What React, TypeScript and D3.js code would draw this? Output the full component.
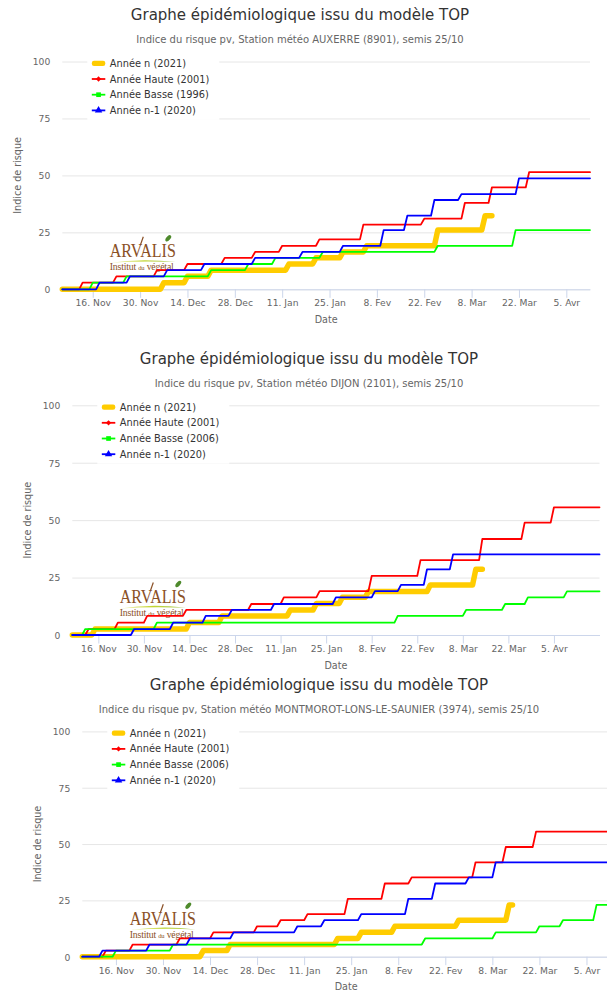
import React, { useEffect, useRef } from "react";
import * as d3 from "d3";

type Step = [string, number];

// Each series: dates where the index steps up, with the new value (last entry = end of series)

// Station AUXERRE (8901)
const auxerreDomain = ["2020-11-07", "2021-04-12"];
const auxerreN: Step[] = [
  ["2020-11-07", 0], ["2020-12-06", 2.9], ["2020-12-13", 5.7], ["2020-12-20", 8.4],
  ["2021-01-12", 11.1], ["2021-01-20", 13.8], ["2021-01-28", 16.4], ["2021-02-04", 19.1],
  ["2021-02-25", 26], ["2021-03-11", 32.3], ["2021-03-14", 32.3]
];
const auxerreHaute: Step[] = [
  ["2020-11-07", 0], ["2020-11-12", 2.9], ["2020-11-22", 5.7], ["2020-12-04", 8.4],
  ["2020-12-13", 11.1], ["2020-12-24", 13.8], ["2021-01-02", 16.4], ["2021-01-10", 19.1],
  ["2021-01-21", 21.9], ["2021-02-03", 28.4], ["2021-02-21", 31], ["2021-03-05", 37.9],
  ["2021-03-13", 44.7], ["2021-03-24", 51.4], ["2021-04-12", 51.4]
];
const auxerreBasse: Step[] = [
  ["2020-11-07", 0], ["2020-11-15", 2.9], ["2020-11-25", 5.7], ["2020-12-20", 8.4],
  ["2020-12-31", 11.1], ["2021-01-08", 13.8], ["2021-01-22", 16.4], ["2021-02-25", 19.1],
  ["2021-03-20", 26], ["2021-04-12", 26]
];
const auxerreN1: Step[] = [
  ["2020-11-07", 0], ["2020-11-17", 2.9], ["2020-11-26", 5.7], ["2020-12-07", 8.4],
  ["2020-12-18", 11.1], ["2021-01-02", 13.8], ["2021-01-16", 16.4], ["2021-01-28", 19.1],
  ["2021-02-09", 26], ["2021-02-16", 32.3], ["2021-02-24", 39.2], ["2021-03-04", 41.8],
  ["2021-03-21", 48.7], ["2021-04-12", 48.7]
];

// Station DIJON (2101)
const dijonDomain = ["2020-11-08", "2021-04-19"];
const dijonN: Step[] = [
  ["2020-11-08", 0], ["2020-11-14", 2.6], ["2020-12-13", 5.4], ["2020-12-23", 8.3],
  ["2021-01-13", 10.9], ["2021-01-21", 13.7], ["2021-01-29", 16.4], ["2021-02-06", 18.9],
  ["2021-02-25", 21.8], ["2021-03-11", 28.6], ["2021-03-14", 28.6]
];
const dijonHaute: Step[] = [
  ["2020-11-08", 0], ["2020-11-12", 2.6], ["2020-11-21", 5.4], ["2020-11-30", 8.3],
  ["2020-12-12", 10.9], ["2021-01-01", 13.5], ["2021-01-11", 16.4], ["2021-01-22", 19.1],
  ["2021-02-07", 25.7], ["2021-02-22", 32.6], ["2021-03-13", 41.8], ["2021-03-26", 48.9],
  ["2021-04-04", 55.6], ["2021-04-19", 55.6]
];
const dijonBasse: Step[] = [
  ["2020-11-08", 0], ["2020-11-11", 2.6], ["2020-12-03", 5.4], ["2021-02-15", 8.3],
  ["2021-03-08", 10.9], ["2021-03-20", 13.5], ["2021-03-27", 16.4], ["2021-04-08", 19],
  ["2021-04-19", 19]
];
const dijonN1: Step[] = [
  ["2020-11-08", 0], ["2020-11-26", 2.6], ["2020-12-08", 5.4], ["2020-12-18", 8.3],
  ["2020-12-26", 10.9], ["2021-01-08", 13.5], ["2021-01-27", 16.4], ["2021-02-08", 19.1],
  ["2021-02-16", 21.8], ["2021-02-24", 28.6], ["2021-03-04", 35.1], ["2021-04-19", 35.1]
];

// Station MONTMOROT-LONS-LE-SAUNIER (3974)
const montmorotDomain = ["2020-11-06", "2021-04-12"];
const montmorotN: Step[] = [
  ["2020-11-06", 0], ["2020-12-11", 2.7], ["2020-12-19", 5.4], ["2021-01-20", 8.1],
  ["2021-01-27", 10.8], ["2021-02-06", 13.5], ["2021-02-25", 16.2], ["2021-03-12", 23],
  ["2021-03-14", 23]
];
const montmorotHaute: Step[] = [
  ["2020-11-06", 0], ["2020-11-12", 2.7], ["2020-11-20", 5.4], ["2020-12-04", 8.1],
  ["2020-12-14", 10.8], ["2020-12-27", 13.5], ["2021-01-03", 16.2], ["2021-01-11", 18.9],
  ["2021-01-23", 25.7], ["2021-02-03", 32.5], ["2021-02-11", 35.2], ["2021-03-02", 41.9],
  ["2021-03-11", 48.7], ["2021-03-20", 55.5], ["2021-04-12", 55.5]
];
const montmorotBasse: Step[] = [
  ["2020-11-06", 0], ["2020-11-15", 2.7], ["2020-12-02", 5.4], ["2021-02-15", 8.1],
  ["2021-03-08", 10.8], ["2021-03-21", 13.5], ["2021-03-28", 16.2], ["2021-04-07", 23],
  ["2021-04-12", 23]
];
const montmorotN1: Step[] = [
  ["2020-11-06", 0], ["2020-11-11", 2.7], ["2020-11-25", 5.4], ["2020-12-07", 8.1],
  ["2020-12-20", 10.8], ["2021-01-08", 13.5], ["2021-01-16", 16.2], ["2021-01-27", 18.9],
  ["2021-02-10", 25.7], ["2021-02-18", 32.5], ["2021-02-28", 35.2], ["2021-03-08", 41.9],
  ["2021-04-12", 41.9]
];

const xTickDates = [
  "2020-11-16", "2020-11-30", "2020-12-14", "2020-12-28", "2021-01-11", "2021-01-25",
  "2021-02-08", "2021-02-22", "2021-03-08", "2021-03-22", "2021-04-05"
];
const monthLabels = ["Jan", "Fev", "Mar", "Avr", "Mai", "Juin", "Juil", "Aou", "Sep", "Oct", "Nov", "Dec"];
const yTicks = [0, 25, 50, 75, 100];

const chartTitle = "Graphe épidémiologique issu du modèle TOP";
const auxerreLegend = ["Année n (2021)", "Année Haute (2001)", "Année Basse (1996)", "Année n-1 (2020)"];
const dijonLegend = ["Année n (2021)", "Année Haute (2001)", "Année Basse (2006)", "Année n-1 (2020)"];
const montmorotLegend = ["Année n (2021)", "Année Haute (2001)", "Année Basse (2006)", "Année n-1 (2020)"];

const seriesColors = ["#ffcc00", "#ff0000", "#00ff00", "#0000ff"];
const seriesWidths = [5.5, 1.8, 1.8, 1.8];

const charts = [
  {
    subtitle: "Indice du risque pv, Station météo AUXERRE (8901), semis 25/10",
    legend: auxerreLegend,
    series: [auxerreN, auxerreHaute, auxerreBasse, auxerreN1],
    domain: auxerreDomain,
    layout: { left: 62.3, right: 590, y0: 289.3, y100: 61.5, titleX: 300 }
  },
  {
    subtitle: "Indice du risque pv, Station météo DIJON (2101), semis 25/10",
    legend: dijonLegend,
    series: [dijonN, dijonHaute, dijonBasse, dijonN1],
    domain: dijonDomain,
    layout: { left: 72.3, right: 599.5, y0: 635, y100: 405.3, titleX: 309 }
  },
  {
    subtitle: "Indice du risque pv, Station météo MONTMOROT-LONS-LE-SAUNIER (3974), semis 25/10",
    legend: montmorotLegend,
    series: [montmorotN, montmorotHaute, montmorotBasse, montmorotN1],
    domain: montmorotDomain,
    layout: { left: 82.3, right: 610, y0: 956.7, y100: 731.4, titleX: 319 }
  }
];

const parse = d3.timeParse("%Y-%m-%d");
const SANS = "'DejaVu Sans', Verdana, sans-serif";
const SERIF = "'Liberation Serif', 'DejaVu Serif', serif";
const BROWN = "#8a5026";

// step changes take one day to climb, like the daily source data
function stepPoints(steps: Step[]): [Date, number][] {
  const pts: [Date, number][] = [];
  steps.forEach(([ds, v], i) => {
    const d = parse(ds)!;
    const prev = i > 0 ? steps[i - 1][1] : v;
    if (prev !== v) {
      pts.push([d, prev]);
      pts.push([d3.timeDay.offset(d, 1), v]);
    } else {
      pts.push([d, v]);
    }
  });
  return pts;
}

function drawLogo(g: d3.Selection<SVGGElement, unknown, null, undefined>, x0: number, yb: number) {
  const logo = g.append("g").attr("transform", `translate(${x0},${yb})`);
  logo.append("path")
    .attr("d", "M0,5.4 Q33,0.6 66,4.8 Q33,3.2 0,5.4 Z")
    .attr("fill", "url(#arvalis-swoosh)");
  logo.append("text")
    .attr("font-family", SERIF)
    .attr("font-size", 19)
    .attr("fill", BROWN)
    .attr("textLength", 66)
    .attr("lengthAdjust", "spacingAndGlyphs")
    .text("ARVALIS");
  logo.append("path")
    .attr("d", "M30.5,-12 L33.5,-20.5")
    .attr("stroke", BROWN)
    .attr("stroke-width", 1.2);
  logo.append("ellipse")
    .attr("cx", 58.5).attr("cy", -19)
    .attr("rx", 3.8).attr("ry", 2)
    .attr("transform", "rotate(-50 58.5 -19)")
    .attr("fill", "#4e8a2c");
  const t = logo.append("text")
    .attr("y", 13)
    .attr("font-family", SERIF)
    .attr("font-size", 9.8)
    .attr("fill", BROWN)
    .attr("textLength", 64)
    .attr("lengthAdjust", "spacing");
  t.append("tspan").text("Institut ");
  t.append("tspan").attr("font-size", 6.5).text("du");
  t.append("tspan").text(" végétal");
}

export default function App() {
  const svgRef = useRef<SVGSVGElement>(null);

  useEffect(() => {
    if (!svgRef.current) return;
    const svg = d3.select(svgRef.current);
    svg.selectAll("*").remove();

    const defs = svg.append("defs");
    const grad = defs.append("linearGradient").attr("id", "arvalis-swoosh");
    grad.append("stop").attr("offset", "0%").attr("stop-color", "#e3e77a").attr("stop-opacity", 0.6);
    grad.append("stop").attr("offset", "50%").attr("stop-color", "#c2d530");
    grad.append("stop").attr("offset", "100%").attr("stop-color", "#96bf34").attr("stop-opacity", 0.7);

    charts.forEach((c) => {
      const L = c.layout;
      const x = d3.scaleTime()
        .domain(c.domain.map((d) => parse(d)!) as [Date, Date])
        .range([L.left, L.right]);
      const y = d3.scaleLinear().domain([0, 100]).range([L.y0, L.y100]);
      const g = svg.append("g");

      // Titles
      g.append("text")
        .attr("x", L.titleX).attr("y", L.y100 - 41.5)
        .attr("text-anchor", "middle")
        .attr("font-family", SANS).attr("font-size", 15).attr("fill", "#333333")
        .text(chartTitle);
      g.append("text")
        .attr("x", L.titleX).attr("y", L.y100 - 18.5)
        .attr("text-anchor", "middle")
        .attr("font-family", SANS).attr("font-size", 10).attr("fill", "#666666")
        .text(c.subtitle);

      // Y axis with grid lines
      const yAxis = g.append("g")
        .attr("transform", `translate(${L.left},0)`)
        .call(d3.axisLeft(y).tickValues(yTicks).tickSize(-(L.right - L.left)).tickPadding(12));
      yAxis.select(".domain").remove();
      yAxis.selectAll("line").attr("stroke", "#e6e6e6");
      yAxis.selectAll("text")
        .attr("font-family", SANS).attr("font-size", 9.2).attr("fill", "#666666").attr("dy", "0.36em");

      // X axis
      const xAxis = g.append("g")
        .attr("transform", `translate(0,${L.y0})`)
        .call(d3.axisBottom(x)
          .tickValues(xTickDates.map((d) => parse(d)!))
          .tickFormat((d) => `${(d as Date).getDate()}. ${monthLabels[(d as Date).getMonth()]}`)
          .tickSize(8.5).tickSizeOuter(0).tickPadding(2));
      xAxis.select(".domain").attr("stroke", "#ccd6eb");
      xAxis.selectAll("line").attr("stroke", "#ccd6eb");
      xAxis.selectAll("text")
        .attr("font-family", SANS).attr("font-size", 9.2).attr("fill", "#666666");

      // Axis titles
      g.append("text")
        .attr("x", (L.left + L.right) / 2).attr("y", L.y0 + 33.5)
        .attr("text-anchor", "middle")
        .attr("font-family", SANS).attr("font-size", 9.6).attr("fill", "#666666")
        .text("Date");
      g.append("text")
        .attr("transform", `translate(${L.left - 45},${(L.y0 + L.y100) / 2}) rotate(-90)`)
        .attr("text-anchor", "middle").attr("dy", "0.35em")
        .attr("font-family", SANS).attr("font-size", 9.6).attr("fill", "#666666")
        .text("Indice de risque");

      // Logo under the series
      drawLogo(g, L.left + 47.5, L.y0 - 32);

      // Series
      const line = d3.line<[Date, number]>()
        .x((d) => x(d[0]))
        .y((d) => y(d[1]));
      c.series.forEach((s, i) => {
        g.append("path")
          .datum(stepPoints(s))
          .attr("fill", "none")
          .attr("stroke", seriesColors[i])
          .attr("stroke-width", seriesWidths[i])
          .attr("stroke-linejoin", "round")
          .attr("stroke-linecap", "round")
          .attr("d", line);
      });

      // Legend
      const step = 15.7;
      const firstY = L.y100 + 1.8;
      const lg = g.append("g");
      lg.append("rect")
        .attr("x", L.left + 25).attr("y", firstY - 9.5)
        .attr("width", 132).attr("height", step * 3 + 19)
        .attr("fill", "#ffffff");
      const sx = L.left + 29.5;
      const sw = 13.5;
      const symbols = [null, d3.symbolSquare, d3.symbolSquare, d3.symbolTriangle];
      const symbolSizes = [0, 14, 22, 24];
      c.legend.forEach((label, i) => {
        const cy = firstY + i * step;
        if (i === 0) {
          lg.append("rect")
            .attr("x", sx).attr("y", cy - 2.6)
            .attr("width", sw).attr("height", 5.2)
            .attr("rx", 2.2)
            .attr("fill", seriesColors[0]);
        } else {
          lg.append("line")
            .attr("x1", sx).attr("x2", sx + sw)
            .attr("y1", cy).attr("y2", cy)
            .attr("stroke", seriesColors[i]).attr("stroke-width", 1.8);
          lg.append("path")
            .attr("d", d3.symbol(symbols[i]!, symbolSizes[i])()!)
            .attr("transform", `translate(${sx + sw / 2},${cy})${i === 1 ? " rotate(45)" : ""}`)
            .attr("fill", seriesColors[i]);
        }
        lg.append("text")
          .attr("x", L.left + 47.5).attr("y", cy + 3.5)
          .attr("font-family", SANS).attr("font-size", 9.8).attr("fill", "#333333")
          .text(label);
      });
    });
  }, []);

  return (
    <svg
      ref={svgRef}
      width={607}
      height={991}
      style={{ position: "absolute", left: 0, top: 0, background: "#ffffff" }}
    />
  );
}
